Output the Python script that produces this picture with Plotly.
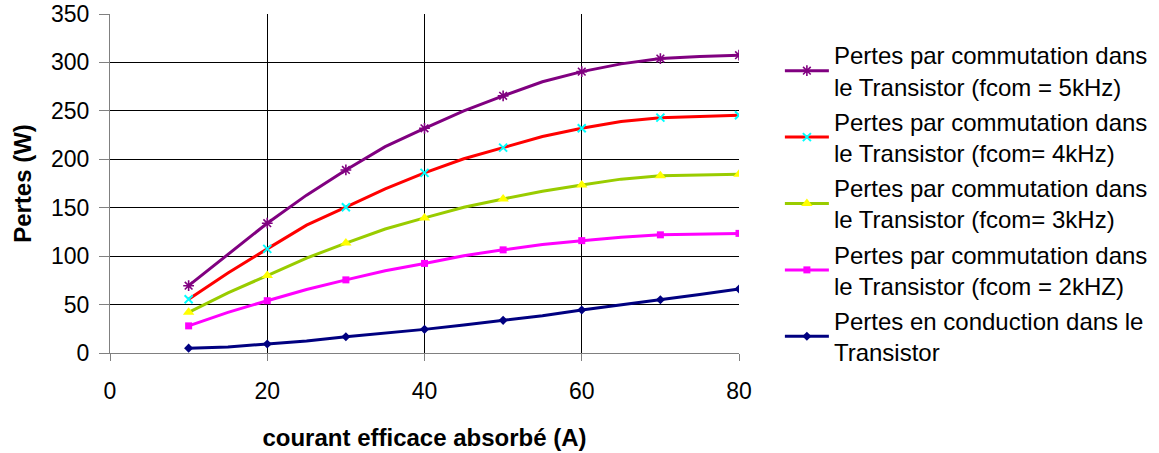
import plotly.graph_objects as go

# Data
courant = [10, 15, 20, 25, 30, 35, 40, 45, 50, 55, 60, 65, 70, 75, 80]
courant_markers = [10, 20, 30, 40, 50, 60, 70, 80]

pertes_5khz = [69.5, 101.5, 134, 163, 189, 213, 232, 250, 265.5, 280, 290.5, 298.5, 304, 306, 307.5]
pertes_4khz = [55.5, 82.5, 107.5, 132, 150.5, 169.5, 186, 200.5, 212, 223.5, 232, 239, 243, 244.5, 245.5]
pertes_3khz = [42, 62, 80, 98, 113.5, 128, 139.5, 150.5, 159, 167, 173.5, 179.5, 183, 184, 184.5]
pertes_2khz = [28, 42, 54, 65.5, 75.5, 85, 92.5, 100.5, 106.5, 112, 116, 119.5, 122, 123, 123.5]
pertes_conduction = [5, 6.2, 9.3, 12.5, 16.8, 20.6, 24.4, 29, 33.7, 38.5, 44.4, 50, 55, 60.5, 66]

noms = [
    "Pertes par commutation dans<br>le Transistor (fcom = 5kHz)",
    "Pertes par commutation dans<br>le Transistor (fcom= 4kHz)",
    "Pertes par commutation dans<br>le Transistor (fcom= 3kHz)",
    "Pertes par commutation dans<br>le Transistor (fcom = 2kHZ)",
    "Pertes en conduction dans le<br>Transistor",
]
x_ticks = [0, 20, 40, 60, 80]
y_ticks = [0, 50, 100, 150, 200, 250, 300, 350]

series = [pertes_5khz, pertes_4khz, pertes_3khz, pertes_2khz, pertes_conduction]
line_colors = ["#800080", "#FF0000", "#99CC00", "#FF00FF", "#000080"]
marker_styles = [
    dict(symbol="asterisk-open", size=9, color="#800080", line=dict(color="#800080", width=1.6)),
    dict(symbol="x-thin-open", size=8, color="#00FFFF", line=dict(color="#00FFFF", width=2)),
    dict(symbol="triangle-up", size=10, color="#FFFF00", line=dict(width=0)),
    dict(symbol="square", size=7, color="#FF00FF", line=dict(width=0)),
    dict(symbol="diamond", size=7, color="#000080", line=dict(width=0)),
]

FONT = "Liberation Sans, Arial, sans-serif"
fig = go.Figure()

for i, (vals, name, lc, ms) in enumerate(zip(series, noms, line_colors, marker_styles)):
    grp = f"g{i}"
    fig.add_trace(go.Scatter(x=courant, y=vals, mode="lines", line=dict(color=lc, width=3),
                             showlegend=False, legendgroup=grp, hoverinfo="skip"))
    mvals = [v for xx, v in zip(courant, vals) if xx in courant_markers]
    fig.add_trace(go.Scatter(x=courant_markers, y=mvals, mode="markers", marker=ms,
                             showlegend=False, legendgroup=grp))
    fig.add_trace(go.Scatter(x=[None], y=[None], mode="lines+markers", name=name,
                             line=dict(color=lc, width=3), marker=ms, legendgroup=grp))

fig.update_layout(
    width=1159, height=453,
    margin=dict(l=110, r=420, t=14, b=100, autoexpand=False),
    paper_bgcolor="white", plot_bgcolor="white",
    font=dict(family=FONT, color="black", size=23),
    showlegend=True,
    legend=dict(x=1.065, y=0.944, xanchor="left", yanchor="top",
                font=dict(family=FONT, size=24, color="black"),
                itemwidth=44, maxheight=440,
                tracegroupgap=1, bgcolor="rgba(0,0,0,0)"),
    xaxis=dict(range=[0, 80], tickvals=x_ticks, showgrid=True, gridcolor="black", gridwidth=1,
               showline=True, linecolor="#808080", linewidth=1, mirror=False,
               ticks="outside", ticklen=7, tickcolor="#808080", zeroline=False,
               tickfont=dict(size=23), ticklabelstandoff=10, automargin=False,
               title=dict(text="<b>courant efficace absorbé (A)</b>", font=dict(size=24), standoff=26)),
    yaxis=dict(range=[0, 350], tickvals=y_ticks, showgrid=True, gridcolor="black", gridwidth=1,
               showline=True, linecolor="#808080", linewidth=1,
               ticks="outside", ticklen=10, tickcolor="#808080", zeroline=False,
               tickfont=dict(size=23), ticklabelstandoff=5, automargin=False,
               title=dict(text="<b>Pertes (W)</b>", font=dict(size=24), standoff=12)),
)

fig.write_html("out.html", config={"displayModeBar": False},
               post_script="document.body.style.margin='0';document.body.style.overflow='hidden';")
